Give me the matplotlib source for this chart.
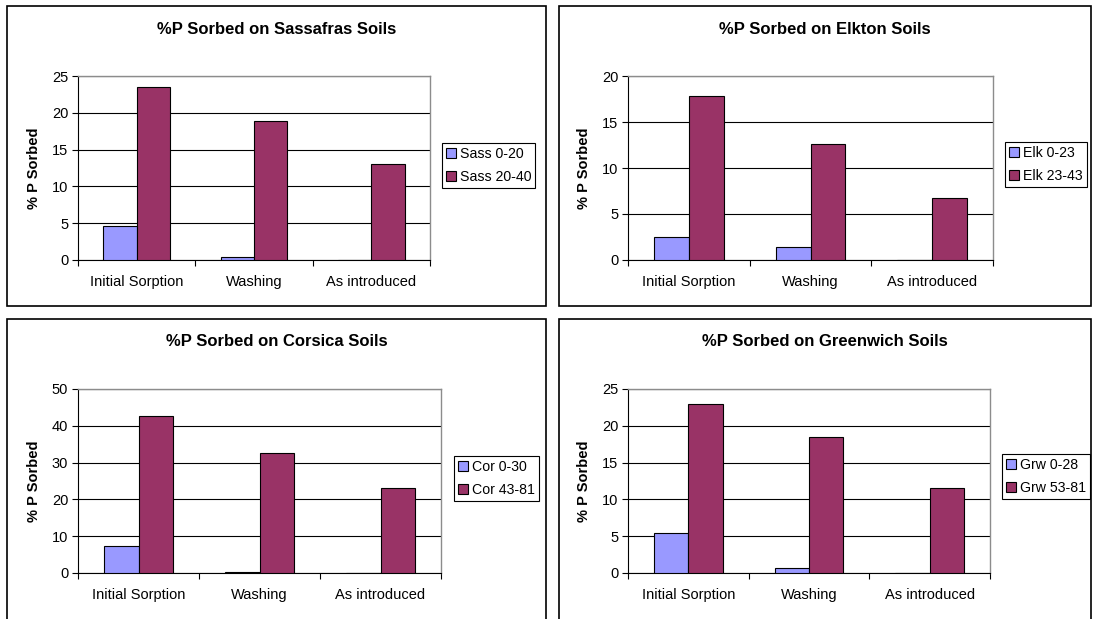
import matplotlib.pyplot as plt
from matplotlib.patches import Rectangle
import numpy as np

plt.rcParams['font.family'] = ['Liberation Sans', 'DejaVu Sans']

W, H = 1093, 619

categories = ['Initial Sorption', 'Washing', 'As introduced']

sass_0_20 = [4.6, 0.35, 0]
sass_20_40 = [23.5, 18.9, 13.0]
elk_0_23 = [2.55, 1.4, 0]
elk_23_43 = [17.8, 12.6, 6.75]
cor_0_30 = [7.35, 0.3, 0]
cor_43_81 = [42.6, 32.5, 23.0]
grw_0_28 = [5.45, 0.65, 0]
grw_53_81 = [22.9, 18.45, 11.6]

# (title, series names, series values, y max, y step, frame box, axes box, legend top-left) in pixels
panels = [
    ('%P Sorbed on Sassafras Soils', ['Sass 0-20', 'Sass 20-40'], [sass_0_20, sass_20_40], 25, 5,
     (7, 6, 546, 306), (78, 76, 430, 260), (442, 143)),
    ('%P Sorbed on Elkton Soils', ['Elk 0-23', 'Elk 23-43'], [elk_0_23, elk_23_43], 20, 5,
     (559, 6, 1091, 306), (628, 76, 993, 260), (1005, 142)),
    ('%P Sorbed on Corsica Soils', ['Cor 0-30', 'Cor 43-81'], [cor_0_30, cor_43_81], 50, 10,
     (7, 319, 546, 625), (78, 389, 441, 573), (454, 456)),
    ('%P Sorbed on Greenwich Soils', ['Grw 0-28', 'Grw 53-81'], [grw_0_28, grw_53_81], 25, 5,
     (559, 319, 1091, 625), (628, 389, 990, 573), (1002, 454)),
]

colors = ['#9999FF', '#993366']
bar_w = 0.285

fig = plt.figure(figsize=(W / 100, H / 100), dpi=100)


def to_fig(box):
    x0, y0, x1, y1 = box
    return [x0 / W, 1 - y1 / H, (x1 - x0) / W, (y1 - y0) / H]


for title, names, series, ymax, ystep, frame, axbox, legpos in panels:
    fx, fy, fw, fh = to_fig(frame)
    fig.patches.append(Rectangle((fx, fy), fw, fh, transform=fig.transFigure,
                                 fill=False, edgecolor='black', linewidth=1.2))
    fig.text(fx + fw / 2, 1 - (frame[1] + 23) / H, title, ha='center', va='center',
             fontsize=12, fontweight='bold')

    ax = fig.add_axes(to_fig(axbox))
    x = np.arange(len(categories)) + 0.5
    for i, (name, vals) in enumerate(zip(names, series)):
        offset = (i - 0.5) * bar_w
        ax.bar(x + offset, vals, bar_w, color=colors[i], edgecolor='black',
               linewidth=0.8, label=name, zorder=3)

    ax.set_xlim(0, 3)
    ax.set_ylim(0, ymax)
    ax.set_yticks(np.arange(0, ymax + 1, ystep))
    ax.set_xticks([0, 1, 2, 3])
    ax.set_xticklabels([])
    ax.set_xticks(x, minor=True)
    ax.set_xticklabels(categories, minor=True)
    ax.tick_params(axis='x', which='minor', length=0, pad=11, labelsize=10.5)
    ax.tick_params(axis='x', which='major', length=4, direction='out', width=0.8)
    ax.tick_params(axis='y', length=4, direction='out', width=0.8, labelsize=10.5, pad=3)
    ax.yaxis.grid(True, color='black', linewidth=0.8, zorder=0)
    ax.set_axisbelow(True)
    for side in ['top', 'right']:
        ax.spines[side].set_color('#8c8c8c')
        ax.spines[side].set_linewidth(1.0)
    for side in ['left', 'bottom']:
        ax.spines[side].set_color('black')
        ax.spines[side].set_linewidth(0.8)
    ax.set_ylabel('% P Sorbed', fontsize=10.5, fontweight='bold', labelpad=8)

    ax.legend(loc='upper left', bbox_to_anchor=(legpos[0] / W, 1 - legpos[1] / H),
              bbox_transform=fig.transFigure, borderaxespad=0, fancybox=False,
              edgecolor='black', framealpha=1, fontsize=10.2, handlelength=0.7,
              handleheight=0.7, handletextpad=0.25, borderpad=0.3, labelspacing=0.6)
    ax.get_legend().get_frame().set_linewidth(0.8)

fig.savefig('out.png', dpi=100)
